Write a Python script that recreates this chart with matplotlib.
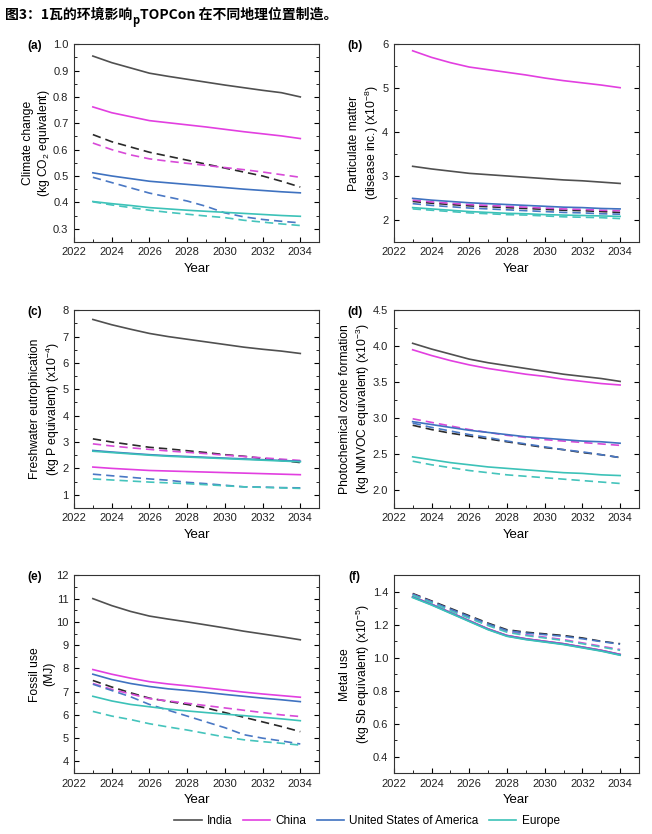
#!/usr/bin/env python3

import matplotlib
matplotlib.use("Agg")
import matplotlib.pyplot as plt
from matplotlib.ticker import MultipleLocator

plt.rcParams['font.family'] = ['Liberation Sans', 'DejaVu Sans']
plt.rcParams['mathtext.fontset'] = 'custom'
plt.rcParams['mathtext.rm'] = 'Liberation Sans'

years = list(range(2023, 2035))
regions = ["India", "China", "United States of America", "Europe"]
colors = ["#505050", "#e23fe0", "#3f72c0", "#3cc2b8"]
dash_colors = ["#2a2a2a", "#d84ad8", "#4a78c4", "#45c4bc"]

# (a) climate change
a_solid = [
    [0.955, 0.93, 0.91, 0.89, 0.878, 0.867, 0.856, 0.845, 0.835, 0.825, 0.816, 0.80],
    [0.762, 0.74, 0.725, 0.71, 0.702, 0.694, 0.686, 0.677, 0.668, 0.66, 0.652, 0.642],
    [0.512, 0.50, 0.49, 0.48, 0.474, 0.468, 0.462, 0.456, 0.45, 0.445, 0.44, 0.436],
    [0.403, 0.395, 0.388, 0.38, 0.375, 0.37, 0.366, 0.362, 0.358, 0.354, 0.35, 0.347],
]
a_dash = [
    [0.657, 0.63, 0.61, 0.59, 0.575, 0.56, 0.545, 0.53, 0.515, 0.50, 0.48, 0.458],
    [0.625, 0.60, 0.58, 0.565, 0.556, 0.548, 0.54, 0.532, 0.524, 0.515, 0.505, 0.495],
    [0.495, 0.475, 0.455, 0.435, 0.42, 0.405, 0.385, 0.36, 0.345, 0.335, 0.328, 0.322],
    [0.402, 0.39, 0.38, 0.37, 0.362, 0.355, 0.348, 0.342, 0.332, 0.325, 0.318, 0.312],
]
# (b) particulate matter
b_solid = [
    [3.22, 3.16, 3.11, 3.06, 3.03, 3.0, 2.97, 2.94, 2.91, 2.89, 2.86, 2.83],
    [5.85, 5.7, 5.58, 5.48, 5.42, 5.36, 5.3, 5.23, 5.17, 5.12, 5.07, 5.01],
    [2.49, 2.45, 2.42, 2.39, 2.37, 2.35, 2.33, 2.31, 2.29, 2.28, 2.26, 2.25],
    [2.28, 2.25, 2.22, 2.19, 2.17, 2.15, 2.14, 2.12, 2.11, 2.10, 2.09, 2.08],
]
b_dash = [
    [2.42, 2.38, 2.35, 2.32, 2.3, 2.28, 2.26, 2.24, 2.22, 2.21, 2.19, 2.17],
    [2.45, 2.41, 2.38, 2.35, 2.33, 2.31, 2.29, 2.27, 2.25, 2.24, 2.22, 2.21],
    [2.37, 2.33, 2.3, 2.27, 2.25, 2.23, 2.21, 2.19, 2.17, 2.16, 2.14, 2.13],
    [2.25, 2.22, 2.19, 2.16, 2.14, 2.12, 2.11, 2.09, 2.07, 2.06, 2.05, 2.03],
]
# (c) freshwater eutrophication
c_solid = [
    [7.65, 7.45, 7.28, 7.12, 7.0, 6.9, 6.8, 6.7, 6.6, 6.52, 6.45, 6.36],
    [2.05, 2.0, 1.96, 1.92, 1.9, 1.88, 1.86, 1.84, 1.82, 1.8, 1.78, 1.76],
    [2.68, 2.62, 2.57, 2.52, 2.48, 2.45, 2.42, 2.39, 2.36, 2.33, 2.3, 2.27],
    [2.65, 2.6, 2.55, 2.5, 2.46, 2.43, 2.4, 2.37, 2.34, 2.31, 2.28, 2.25],
]
c_dash = [
    [3.12, 3.0, 2.9, 2.8, 2.74, 2.67, 2.6, 2.52, 2.46, 2.38, 2.3, 2.22],
    [2.93, 2.85, 2.78, 2.72, 2.66, 2.61, 2.56, 2.5, 2.45, 2.4, 2.35, 2.3],
    [1.78, 1.72, 1.66, 1.6, 1.55, 1.47, 1.42, 1.36, 1.3, 1.29, 1.27, 1.26],
    [1.6, 1.56, 1.52, 1.48, 1.45, 1.42, 1.38, 1.34, 1.3, 1.28, 1.26, 1.24],
]
# (d) photochemical ozone formation
d_solid = [
    [4.04, 3.96, 3.89, 3.82, 3.77, 3.73, 3.69, 3.65, 3.61, 3.58, 3.55, 3.51],
    [3.95, 3.87, 3.8, 3.74, 3.69, 3.65, 3.61, 3.58, 3.54, 3.51, 3.48, 3.46],
    [2.95, 2.91, 2.87, 2.83, 2.8, 2.77, 2.74, 2.72, 2.7, 2.68, 2.67, 2.65],
    [2.46, 2.42, 2.38, 2.35, 2.32, 2.3, 2.28, 2.26, 2.24, 2.23, 2.21, 2.2],
]
d_dash = [
    [2.9, 2.84, 2.79, 2.75, 2.71, 2.67, 2.63, 2.59, 2.56, 2.52, 2.49, 2.45],
    [2.99, 2.94, 2.89, 2.84, 2.8, 2.76, 2.73, 2.7, 2.68, 2.66, 2.64, 2.62],
    [2.93, 2.87, 2.82, 2.77, 2.73, 2.68, 2.64, 2.6, 2.56, 2.53, 2.49, 2.45],
    [2.4, 2.35, 2.31, 2.27, 2.24, 2.21, 2.19, 2.17, 2.15, 2.13, 2.11, 2.09],
]
# (e) fossil use
e_solid = [
    [11.0, 10.7, 10.45, 10.25, 10.12, 10.0, 9.87, 9.74, 9.6, 9.48, 9.36, 9.23],
    [7.95, 7.75, 7.58, 7.43, 7.33, 7.25, 7.16, 7.07, 6.98, 6.9, 6.83, 6.76],
    [7.75, 7.52, 7.35, 7.22, 7.12, 7.05, 6.97, 6.88, 6.8, 6.72, 6.65, 6.57],
    [6.8, 6.6, 6.45, 6.35, 6.25, 6.17, 6.1, 6.03, 5.97, 5.9, 5.83, 5.75],
]
e_dash = [
    [7.48, 7.2, 6.95, 6.72, 6.58, 6.45, 6.3, 6.1, 5.9, 5.7, 5.5, 5.28],
    [7.35, 7.1, 6.9, 6.7, 6.6, 6.5, 6.4, 6.3, 6.2, 6.1, 6.0, 5.93],
    [7.32, 7.05, 6.78, 6.45, 6.2, 5.95, 5.7, 5.45, 5.15, 5.0, 4.88, 4.75],
    [6.15, 5.95, 5.8, 5.62, 5.48, 5.35, 5.2, 5.05, 4.93, 4.85, 4.78, 4.7],
]
# (f) metal use
f_solid = [
    [1.37, 1.325, 1.275, 1.225, 1.175, 1.135, 1.115, 1.1, 1.085, 1.065, 1.045, 1.02],
    [1.37, 1.325, 1.275, 1.225, 1.175, 1.135, 1.115, 1.1, 1.085, 1.065, 1.045, 1.02],
    [1.368, 1.322, 1.272, 1.222, 1.172, 1.132, 1.112, 1.097, 1.082, 1.062, 1.042, 1.017],
    [1.365, 1.32, 1.27, 1.22, 1.17, 1.13, 1.11, 1.095, 1.08, 1.06, 1.04, 1.015],
]
f_dash = [
    [1.39, 1.345, 1.30, 1.255, 1.21, 1.17, 1.155, 1.145, 1.135, 1.12, 1.10, 1.085],
    [1.385, 1.34, 1.29, 1.245, 1.20, 1.16, 1.14, 1.125, 1.11, 1.09, 1.07, 1.05],
    [1.385, 1.34, 1.295, 1.25, 1.205, 1.165, 1.15, 1.14, 1.13, 1.115, 1.098, 1.082],
    [1.38, 1.335, 1.285, 1.24, 1.195, 1.155, 1.135, 1.12, 1.105, 1.085, 1.065, 1.045],
]

panels = [
    ("(a)", a_solid, a_dash, "Climate change\n(kg CO$_2$ equivalent)", (0.25, 1.0), 0.1, 0.05, "%.1f"),
    ("(b)", b_solid, b_dash, "Particulate matter\n(disease inc.) (x10$^{-8}$)", (1.5, 6.0), 1, 0.5, "%d"),
    ("(c)", c_solid, c_dash, "Freshwater eutrophication\n(kg P equivalent) (x10$^{-4}$)", (0.5, 8.0), 1, 0.5, "%d"),
    ("(d)", d_solid, d_dash, "Photochemical ozone formation\n(kg NMVOC equivalent) (x10$^{-3}$)", (1.75, 4.5), 0.5, 0.25, "%.1f"),
    ("(e)", e_solid, e_dash, "Fossil use\n(MJ)", (3.5, 12.0), 1, 0.5, "%d"),
    ("(f)", f_solid, f_dash, "Metal use\n(kg Sb equivalent) (x10$^{-5}$)", (0.3, 1.5), 0.2, 0.1, "%.1f"),
]

fig = plt.figure(figsize=(6.52, 8.34), dpi=100)

lefts = [0.1135, 0.604]
bottoms = [0.710, 0.391, 0.0731]
w, h = 0.376, 0.237

lines = []
for i, (tag, solid, dash, ylab, ylim, major, minor, fmt) in enumerate(panels):
    ax = fig.add_axes([lefts[i % 2], bottoms[i // 2], w, h])
    for k in range(4):
        ln, = ax.plot(years, solid[k], color=colors[k], lw=1.2)
        ax.plot(years, dash[k], color=dash_colors[k], lw=1.2, ls=(0, (5, 3)))
        if i == 0:
            lines.append(ln)
    ax.set_xlim(2022, 2035)
    ax.set_ylim(*ylim)
    ax.xaxis.set_major_locator(MultipleLocator(2))
    ax.xaxis.set_minor_locator(MultipleLocator(1))
    ax.yaxis.set_major_locator(MultipleLocator(major))
    ax.yaxis.set_minor_locator(MultipleLocator(minor))
    ax.yaxis.set_major_formatter(plt.FormatStrFormatter(fmt))
    ax.tick_params(which='both', direction='in', right=True, top=False,
                   labelsize=8, pad=4, labelcolor="#222222")
    ax.tick_params(which='major', length=3.5)
    ax.tick_params(which='minor', length=2)
    ax.set_xlabel("Year", fontsize=9.5, labelpad=4)
    ax.set_ylabel(ylab, fontsize=8.7, labelpad=0.5)
    for s in ax.spines.values():
        s.set_linewidth(0.8)
        s.set_color("#333333")
    ax.text(-0.16, 0.99, tag, transform=ax.transAxes, fontsize=8.5, fontweight='bold',
            ha='center', va='center')

fig.legend(lines, regions, loc='lower center', bbox_to_anchor=(0.563, -0.004), ncol=4,
           frameon=False, fontsize=8.5, handlelength=2.3, columnspacing=0.9, handletextpad=0.45)

# title with subscript p
cjk = ['Noto Sans CJK SC', 'DejaVu Sans']
t1 = fig.text(0.008, 0.977, "图3：1瓦的环境影响", fontsize=10, fontweight='bold',
              family=cjk, va='baseline')
fig.canvas.draw()
r = fig.canvas.get_renderer()
bb = t1.get_window_extent(r).transformed(fig.transFigure.inverted())
t2 = fig.text(bb.x1, 0.977 - 0.006, "p", fontsize=8, fontweight='bold', family=cjk, va='baseline')
bb2 = t2.get_window_extent(r).transformed(fig.transFigure.inverted())
fig.text(bb2.x1, 0.977, "TOPCon 在不同地理位置制造。", fontsize=10, fontweight='bold',
         family=cjk, va='baseline')

fig.savefig("out.png", dpi=100)
